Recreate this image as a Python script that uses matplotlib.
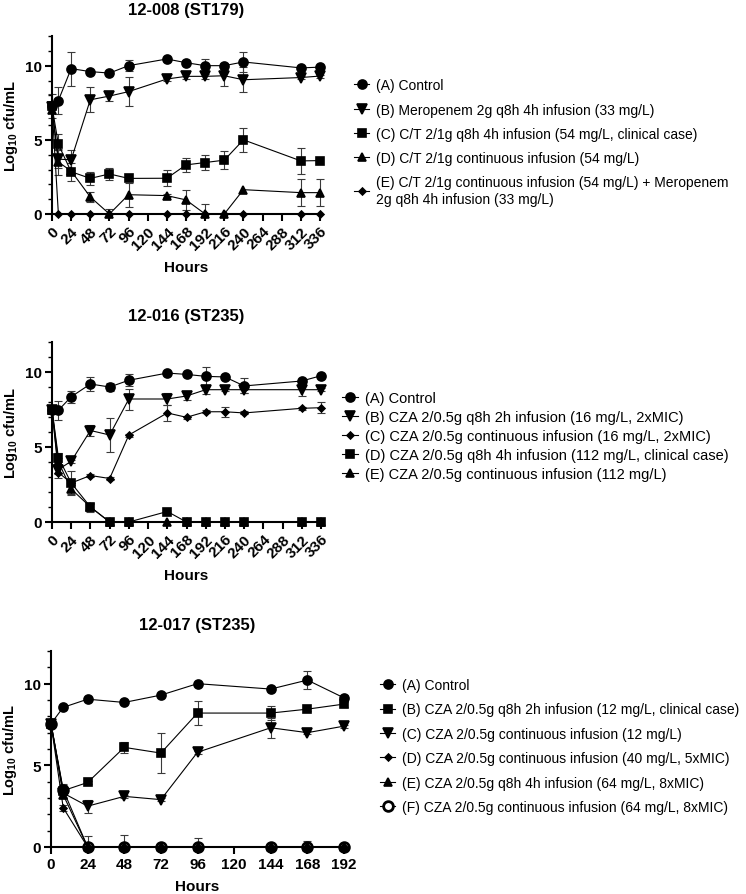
import matplotlib
matplotlib.use("Agg")
import matplotlib.pyplot as plt
from matplotlib.ticker import MultipleLocator

plt.rcParams['font.family'] = ['Liberation Sans', 'DejaVu Sans']
plt.rcParams['mathtext.fontset'] = 'custom'
plt.rcParams['mathtext.rm'] = 'Liberation Sans:bold'
plt.rcParams['mathtext.it'] = 'Liberation Sans:bold'
plt.rcParams['mathtext.bf'] = 'Liberation Sans:bold'

# ---- data: 12-008 (ST179) ----
t1 = [0, 8, 24, 48, 72, 96, 144, 168, 192, 216, 240, 312, 336]
p1_a = [7.3, 7.65, 9.8, 9.6, 9.5, 10.0, 10.45, 10.2, 10.0, 10.0, 10.25, 9.85, 9.9]
p1_a_err = [0.8, 0.9, 1.15, 0.1, 0.1, 0.35, 0.1, 0.15, 0.45, 0.2, 0.65, 0.1, 0.1]
p1_b = [7.2, 3.7, 3.65, 7.7, 7.95, 8.25, 9.1, 9.28, 9.28, 9.32, 9.05, 9.2, 9.3]
p1_b_err = [0, 0.6, 0.65, 0.85, 0.3, 1.0, 0.1, 0.2, 0.15, 0.72, 0.85, 0.1, 0.1]
p1_c = [7.25, 4.7, 2.85, 2.4, 2.7, 2.4, 2.41, 3.31, 3.47, 3.63, 5.0, 3.58, 3.6]
p1_c_err = [0, 0.7, 0.6, 0.45, 0.4, 0, 0.55, 0.45, 0.5, 0.6, 0.8, 0.9, 0]
p1_d = [7.0, 3.5, 2.9, 1.15, 0, 1.3, 1.24, 0.95, 0, 0, 1.64, 1.44, 1.44]
p1_d_err = [0, 0.9, 0, 0.35, 0.35, 0.8, 0.1, 0.7, 0.65, 0, 0, 0.9, 0.9]
p1_e = [7.25, 0, 0, 0, 0, 0, 0, 0, 0, 0, 0, 0, 0]
p1_e_err = [0, 0, 0, 0, 0, 0, 0, 0, 0, 0, 0, 0, 0]
p1_labels = ["(A) Control",
             "(B) Meropenem 2g q8h 4h infusion (33 mg/L)",
             "(C) C/T 2/1g q8h 4h infusion (54 mg/L, clinical case)",
             "(D) C/T 2/1g continuous infusion (54 mg/L)",
             "(E) C/T 2/1g continuous infusion (54 mg/L) + Meropenem\n2g q8h 4h infusion (33 mg/L)"]

# ---- data: 12-016 (ST235) ----
t2 = [0, 8, 24, 48, 72, 96, 144, 168, 192, 216, 240, 312, 336]
p2_a = [7.5, 7.45, 8.35, 9.2, 9.0, 9.45, 9.93, 9.84, 9.71, 9.67, 9.07, 9.4, 9.75]
p2_a_err = [0, 0.65, 0.4, 0.45, 0.25, 0.4, 0.05, 0.1, 0.6, 0.1, 0.5, 0.1, 0.1]
p2_b = [7.5, 3.5, 4.05, 6.1, 5.8, 8.2, 8.2, 8.4, 8.82, 8.82, 8.82, 8.82, 8.82]
p2_b_err = [0, 0.3, 0.1, 0.35, 1.15, 0.7, 0.4, 0.25, 0.3, 0.1, 0.2, 0.4, 0.1]
p2_c = [7.5, 3.3, 2.6, 3.1, 2.9, 5.8, 7.27, 6.98, 7.35, 7.35, 7.27, 7.58, 7.62]
p2_c_err = [0, 0.35, 0.1, 0.1, 0.1, 0.1, 0.55, 0.1, 0.1, 0.35, 0.1, 0.1, 0.35]
p2_d = [7.5, 4.3, 2.6, 1.0, 0, 0, 0.7, 0, 0, 0, 0, 0, 0]
p2_d_err = [0, 0.3, 0.8, 0.3, 0, 0, 0, 0, 0, 0, 0, 0, 0]
p2_e = [7.5, 4.0, 2.2, 1.0, 0, 0, 0, 0, 0, 0, 0, 0, 0]
p2_e_err = [0, 0.3, 0.3, 0.2, 0, 0, 0, 0, 0, 0, 0, 0, 0]
p2_labels = ["(A) Control",
             "(B) CZA 2/0.5g q8h 2h infusion (16 mg/L, 2xMIC)",
             "(C) CZA 2/0.5g continuous infusion (16 mg/L, 2xMIC)",
             "(D) CZA 2/0.5g q8h 4h infusion (112 mg/L, clinical case)",
             "(E) CZA 2/0.5g continuous infusion (112 mg/L)"]

# ---- data: 12-017 (ST235) ----
t3 = [0, 8, 24, 48, 72, 96, 144, 168, 192]
p3_a = [7.55, 8.55, 9.05, 8.85, 9.3, 10.0, 9.67, 10.22, 9.13]
p3_a_err = [0, 0.1, 0.1, 0.1, 0.1, 0.1, 0.1, 0.55, 0.15]
p3_b = [7.55, 3.45, 3.95, 6.1, 5.75, 8.2, 8.2, 8.44, 8.75]
p3_b_err = [0, 0.4, 0.1, 0.35, 1.2, 0.75, 0.45, 0.1, 0.15]
p3_c = [7.55, 3.3, 2.5, 3.1, 2.9, 5.8, 7.3, 7.0, 7.4]
p3_c_err = [0, 0.3, 0.4, 0.1, 0.1, 0.1, 0.6, 0.1, 0.1]
p3_d = [7.55, 2.4, 0, 0, 0, 0, 0, 0, 0]
p3_d_err = [0, 0.2, 0, 0, 0, 0, 0, 0, 0]
p3_e = [7.55, 3.2, 0, 0, 0, 0, 0, 0, 0]
p3_e_err = [0, 0.2, 0, 0, 0, 0, 0, 0, 0]
p3_f = [7.55, 3.5, 0, 0, 0, 0, 0, 0, 0]
p3_f_err = [0, 0.3, 0.7, 0.75, 0.25, 0.55, 0, 0.35, 0]
p3_labels = ["(A) Control",
             "(B) CZA 2/0.5g q8h 2h infusion (12 mg/L, clinical case)",
             "(C) CZA 2/0.5g continuous infusion (12 mg/L)",
             "(D) CZA 2/0.5g continuous infusion (40 mg/L, 5xMIC)",
             "(E) CZA 2/0.5g q8h 4h infusion (64 mg/L, 8xMIC)",
             "(F) CZA 2/0.5g continuous infusion (64 mg/L, 8xMIC)"]

W, H = 746, 895
fig = plt.figure(figsize=(W / 100, H / 100), dpi=100)


def draw_series(ax, t, vals, errs, label, marker, ms, mfc='black', z=3):
    ax.plot(t, vals, color='black', lw=0.8, marker=marker, ms=ms, mfc=mfc,
            mec='black', mew=1.2 if mfc == 'black' else 2.0, label=label,
            clip_on=False, zorder=z)
    idx = [i for i, e in enumerate(errs) if e > 0]
    if not idx:
        return
    xs = [t[i] for i in idx]
    ys = [vals[i] for i in idx]
    lo = [min(errs[i], vals[i]) for i in idx]
    hi = [errs[i] for i in idx]
    eb = ax.errorbar(xs, ys, yerr=[lo, hi], fmt='none', ecolor='#3a3a3a',
                     elinewidth=0.8, capsize=3, capthick=0.8, zorder=2)
    for art in list(eb.lines[1]) + list(eb.lines[2]):
        art.set_clip_on(False)


def style_axes(ax, xmax, rotate, title):
    ax.set_xlim(0, xmax)
    ax.set_ylim(0, 12)
    ax.set_xticks(list(range(0, xmax + 1, 24)))
    ax.yaxis.set_major_locator(MultipleLocator(5))
    ax.yaxis.set_minor_locator(MultipleLocator(1))
    for s in ['top', 'right']:
        ax.spines[s].set_visible(False)
    for s in ['left', 'bottom']:
        ax.spines[s].set_linewidth(1.5)
    ax.tick_params(which='major', direction='out', length=5, width=1.5,
                   labelsize=11, pad=2)
    ax.tick_params(which='minor', direction='out', length=3, width=1.0)
    for lab in ax.get_xticklabels() + ax.get_yticklabels():
        lab.set_fontweight('bold')
    if rotate:
        plt.setp(ax.get_xticklabels(), rotation=45, ha='right',
                 rotation_mode='anchor')
    ax.set_xlabel("Hours", fontsize=11, fontweight='bold', labelpad=6)
    ax.set_ylabel(r"Log$_{10}$ cfu/mL", fontsize=10.5, fontweight='bold',
                  labelpad=4)
    ax.set_title(title, fontsize=12, fontweight='bold', pad=16)


def add_legend(ax, handles, labels, x_px, y_px, fs, spacing):
    ax.legend(handles, labels, loc='center left',
              bbox_to_anchor=(x_px / W, 1 - y_px / H),
              bbox_transform=fig.transFigure, frameon=False, fontsize=fs,
              handlelength=1.1, handletextpad=0.5, labelspacing=spacing,
              borderpad=0, borderaxespad=0)


# panel 1
ax1 = fig.add_axes([52 / W, 1 - 215 / H, 268 / W, 178 / H])
draw_series(ax1, t1, p1_a, p1_a_err, p1_labels[0], 'o', 6.5)
draw_series(ax1, t1, p1_b, p1_b_err, p1_labels[1], 'v', 6.5)
draw_series(ax1, t1, p1_c, p1_c_err, p1_labels[2], 's', 6)
draw_series(ax1, t1, p1_d, p1_d_err, p1_labels[3], '^', 6)
draw_series(ax1, t1, p1_e, p1_e_err, p1_labels[4], 'D', 3.5)
style_axes(ax1, 336, True, "12-008 (ST179)")
h, l = ax1.get_legend_handles_labels()
add_legend(ax1, h, l, 354, 143, 10, 0.74)

# panel 2
ax2 = fig.add_axes([52 / W, 1 - 523 / H, 269 / W, 180 / H])
draw_series(ax2, t2, p2_a, p2_a_err, p2_labels[0], 'o', 6.5)
draw_series(ax2, t2, p2_b, p2_b_err, p2_labels[1], 'v', 6.5)
draw_series(ax2, t2, p2_c, p2_c_err, p2_labels[2], 'D', 3.5)
draw_series(ax2, t2, p2_d, p2_d_err, p2_labels[3], 's', 6)
draw_series(ax2, t2, p2_e, p2_e_err, p2_labels[4], '^', 6)
style_axes(ax2, 336, True, "12-016 (ST235)")
h, l = ax2.get_legend_handles_labels()
add_legend(ax2, h, l, 342, 437, 10.5, 0.34)

# panel 3
ax3 = fig.add_axes([51 / W, 1 - 848 / H, 293 / W, 196 / H])
draw_series(ax3, t3, p3_f, p3_f_err, p3_labels[5], 'o', 7, mfc='white', z=2.5)
draw_series(ax3, t3, p3_a, p3_a_err, p3_labels[0], 'o', 6.5)
draw_series(ax3, t3, p3_b, p3_b_err, p3_labels[1], 's', 6)
draw_series(ax3, t3, p3_c, p3_c_err, p3_labels[2], 'v', 6.5)
draw_series(ax3, t3, p3_d, p3_d_err, p3_labels[3], 'D', 3.5)
draw_series(ax3, t3, p3_e, p3_e_err, p3_labels[4], '^', 6)
style_axes(ax3, 192, False, "12-017 (ST235)")
h, l = ax3.get_legend_handles_labels()
order = [1, 2, 3, 4, 5, 0]
add_legend(ax3, [h[i] for i in order], [l[i] for i in order], 380, 747, 10, 0.75)

fig.savefig("out.png", dpi=100)
